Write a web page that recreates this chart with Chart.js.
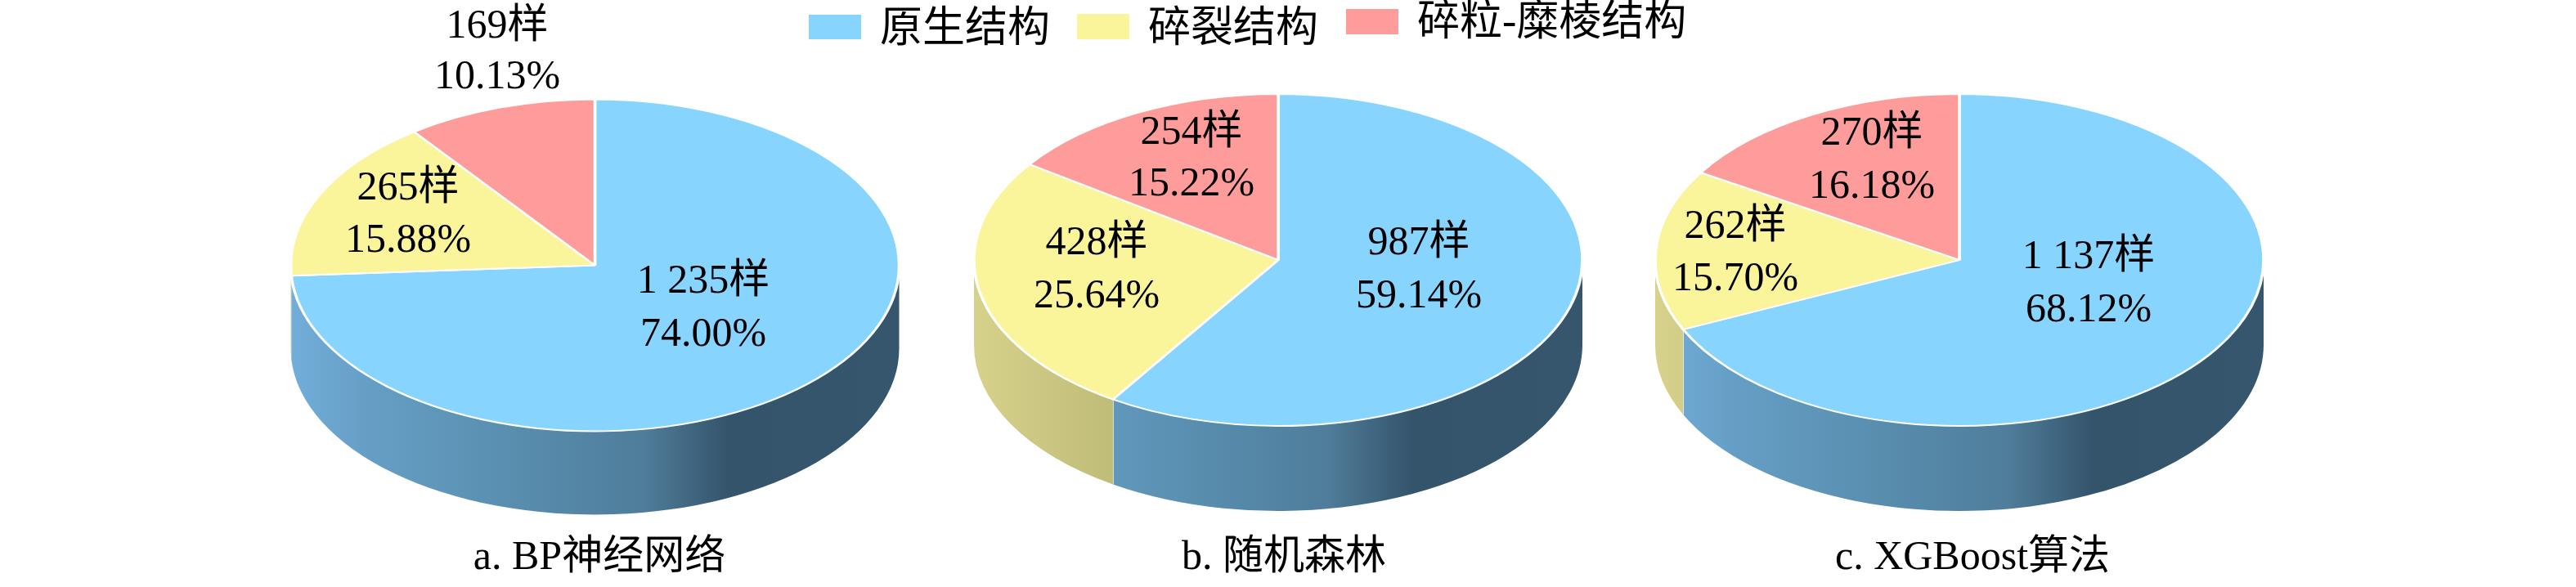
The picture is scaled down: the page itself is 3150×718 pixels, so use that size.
<!DOCTYPE html>
<html lang="zh">
<head>
<meta charset="utf-8">
<title>三种算法的结构分类结果</title>
<script src="https://cdn.jsdelivr.net/npm/chart.js@4"></script>
<style>
  html, body { margin: 0; padding: 0; background: #fff; }
  #wrap { position: relative; width: 3150px; height: 718px; overflow: hidden; }
  canvas { position: absolute; left: 0; top: 0; }
</style>
</head>
<body>
<div id="wrap">
  <canvas id="pie-a" width="3150" height="718"></canvas>
  <canvas id="pie-b" width="3150" height="718"></canvas>
  <canvas id="pie-c" width="3150" height="718"></canvas>
</div>
<script>
// Données
const categories = ['原生结构', '碎裂结构', '碎粒-糜棱结构'];
const samplesA = [1235, 265, 169];
const samplesB = [987, 428, 254];
const samplesC = [1137, 262, 270];
const percentA = ['74.00', '15.88', '10.13'];
const percentB = ['59.14', '25.64', '15.22'];
const percentC = ['68.12', '15.70', '16.18'];
const captionA = 'a. BP神经网络';
const captionB = 'b. 随机森林';
const captionC = 'c. XGBoost算法';

// Mise en page
const FONT = '50px "Liberation Serif", "Noto Sans CJK SC", serif';
const LEGEND_FONT = '52px "Liberation Serif", "Noto Sans CJK SC", serif';
const colors = ['#87D4FF', '#FAF49B', '#FE9C9C'];
const RADIUS = 372;
const SQUASH = 203 / 372;
const labelSpots = {
    a: [[860, 345, 410], [499, 231, 295], [608, 33, 95]],
    b: [[1735, 298, 363], [1341, 298, 363], [1457, 163, 226]],
    c: [[2554, 315, 380], [2122, 278, 342], [2289, 164, 229]]
};
const legendSpots = [
    { box: [989, 18, 64, 30], text: [1076, 37] },
    { box: [1317, 17, 64, 31], text: [1404, 37] },
    { box: [1646, 11, 64, 31], text: [1733, 29] }
];

// Dégradés de la paroi du cylindre, par catégorie
const wallStops = [
    [[0, '#72AEDA'], [0.12, '#669FC6'], [0.3, '#5C93B5'], [0.58, '#4F7D9B'], [0.72, '#34546B'], [1, '#35566C']],
    [[0, '#D6D28C'], [0.3, '#B9B672'], [1, '#A8A566']],
    [[0, '#C98080'], [1, '#8A5858']]
];

function sampleLabel(n) {
    // 1235 -> "1 235"
    return String(n).replace(/\B(?=(\d{3})+$)/g, ' ');
}

// Dessine la paroi puis écrase le disque en ellipse
const pie3d = {
    id: 'pie3d',
    beforeDatasetsDraw(chart, args, opts) {
        const ctx = chart.ctx;
        const arcs = chart.getDatasetMeta(0).data;
        const { x, y, outerRadius } = arcs[0];
        const ry = outerRadius * SQUASH;
        arcs.forEach((arc, i) => {
            const a0 = Math.max(arc.startAngle, 0);
            const a1 = Math.min(arc.endAngle, Math.PI);
            if (a1 <= a0) return;
            const grad = ctx.createLinearGradient(x - outerRadius, 0, x + outerRadius, 0);
            wallStops[i].forEach(s => grad.addColorStop(s[0], s[1]));
            ctx.beginPath();
            ctx.ellipse(x, y, outerRadius, ry, 0, a0, a1);
            ctx.ellipse(x, y + opts.depth, outerRadius, ry, 0, a1, a0, true);
            ctx.closePath();
            ctx.fillStyle = grad;
            ctx.fill();
            // filet clair entre deux secteurs
            if (a1 < Math.PI - 0.1) {
                const px = x + outerRadius * Math.cos(a1);
                const py = y + ry * Math.sin(a1);
                ctx.beginPath();
                ctx.moveTo(px, py);
                ctx.lineTo(px, py + opts.depth);
                ctx.strokeStyle = '#F4F4EC';
                ctx.lineWidth = 1.5;
                ctx.stroke();
            }
        });
        ctx.save();
        ctx.translate(x, y);
        ctx.scale(1, SQUASH);
        ctx.translate(-x, -y);
    },
    afterDatasetsDraw(chart) {
        chart.ctx.restore();
    }
};

// Étiquettes des secteurs et légende du panneau
const pieText = {
    id: 'pieText',
    afterDraw(chart, args, opts) {
        const ctx = chart.ctx;
        const values = chart.data.datasets[0].data;
        ctx.save();
        ctx.font = FONT;
        ctx.fillStyle = '#000';
        ctx.textAlign = 'center';
        ctx.textBaseline = 'middle';
        values.forEach((v, i) => {
            const spot = opts.spots[i];
            ctx.fillText(sampleLabel(v) + '样', spot[0], spot[1]);
            ctx.fillText(opts.percent[i] + '%', spot[0], spot[2]);
        });
        ctx.fillText(opts.caption, opts.captionX, opts.captionY);
        if (opts.legend) {
            ctx.font = LEGEND_FONT;
            ctx.textAlign = 'left';
            chart.data.labels.forEach((label, i) => {
                const b = legendSpots[i].box;
                const t = legendSpots[i].text;
                ctx.fillStyle = colors[i];
                ctx.fillRect(b[0], b[1], b[2], b[3]);
                ctx.fillStyle = '#000';
                ctx.fillText(label, t[0], t[1]);
            });
        }
        ctx.restore();
    }
};

function makePie(id, values, percent, caption, spots, cfg) {
    return new Chart(document.getElementById(id), {
        type: 'pie',
        data: {
            labels: categories,
            datasets: [{
                data: values,
                backgroundColor: colors,
                borderColor: '#FFFFFF',
                borderWidth: 3.5,
                radius: RADIUS,
                clip: false
            }]
        },
        options: {
            responsive: false,
            animation: false,
            devicePixelRatio: 1,
            layout: { padding: cfg.padding },
            plugins: {
                legend: { display: false },
                tooltip: { enabled: false },
                pie3d: { depth: cfg.depth },
                pieText: {
                    spots: spots,
                    percent: percent,
                    caption: caption,
                    captionX: cfg.captionX,
                    captionY: 683,
                    legend: cfg.legend
                }
            }
        },
        plugins: [pie3d, pieText]
    });
}

makePie('pie-a', samplesA, percentA, captionA, labelSpots.a, {
    padding: { left: 0, right: 1695, top: 0, bottom: 69 }, depth: 102, captionX: 733, legend: false
});
makePie('pie-b', samplesB, percentB, captionB, labelSpots.b, {
    padding: { left: 0, right: 24, top: 0, bottom: 82 }, depth: 104, captionX: 1570, legend: true
});
makePie('pie-c', samplesC, percentC, captionC, labelSpots.c, {
    padding: { left: 1642, right: 0, top: 0, bottom: 82 }, depth: 104, captionX: 2412, legend: false
});
</script>
</body>
</html>
